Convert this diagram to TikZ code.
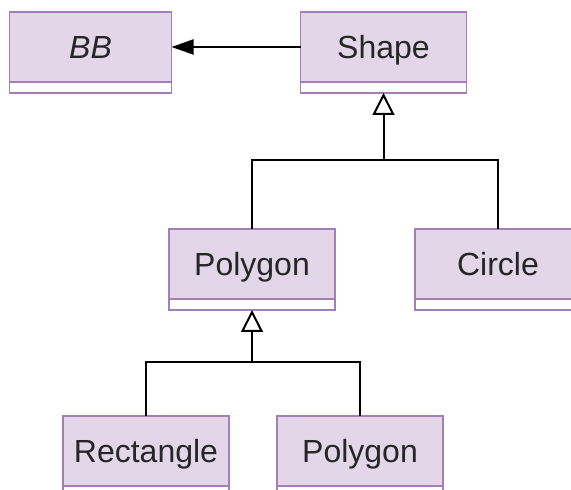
\documentclass[tikz,border=0pt]{standalone}
\usepackage{fontspec}
\setmainfont{Liberation Sans}
\usetikzlibrary{arrows.meta,positioning}
\definecolor{umlfill}{RGB}{226,214,232}
\definecolor{umlline}{RGB}{164,126,182}
\tikzset{
  cls/.style={draw=umlline, fill=umlfill, line width=0.8pt, minimum width=83pt,
    minimum height=35pt, inner sep=0pt, outer sep=0pt, text height=11.5pt,
    text depth=0pt, font=\fontsize{16}{19}\selectfont, text=black!85},
  compart/.style={draw=umlline, fill=white, line width=0.8pt, minimum width=83pt,
    minimum height=5.5pt, inner sep=0pt, outer sep=0pt},
  link/.style={draw, line width=1pt},
  inherit/.style={link, -{Triangle[open, length=11pt, width=11pt]}},
  assoc/.style={link, -{Triangle[length=11pt, width=7.5pt]}}
}
\begin{document}
\begin{tikzpicture}[x=0.5pt,y=-0.5pt]
\useasboundingbox (0,0) rectangle (571,490);
\clip (0,0) rectangle (571,490);
% classes
\node[cls, minimum width=81pt] (bb) at (90.5,47) {\itshape BB};
\node[compart, minimum width=81pt, below=0pt of bb] (bbx) {};
\node[cls] (shape) at (383.5,47) {Shape};
\node[compart, below=0pt of shape] (shapex) {};
\node[cls] (polygon) at (252,264) {Polygon};
\node[compart, below=0pt of polygon] (polygonx) {};
\node[cls] (circle) at (498,264) {Circle};
\node[compart, below=0pt of circle] (circlex) {};
\node[cls] (rectangle) at (146,451) {Rectangle};
\node[compart, below=0pt of rectangle] (rectanglex) {};
\node[cls] (polygon2) at (360,451) {Polygon};
\node[compart, below=0pt of polygon2] (polygon2x) {};
% junctions
\coordinate (j1) at (383.5,160);
\coordinate (j2) at (252,362);
% connectors
\path[assoc] (shape.west) -- (bb.east);
\path[inherit] (polygon.north) |- (j1) -- (shapex.south);
\path[link] (circle.north) |- (j1);
\path[inherit] (rectangle.north) |- (j2) -- (polygonx.south);
\path[link] (polygon2.north) |- (j2);
\end{tikzpicture}
\end{document}
